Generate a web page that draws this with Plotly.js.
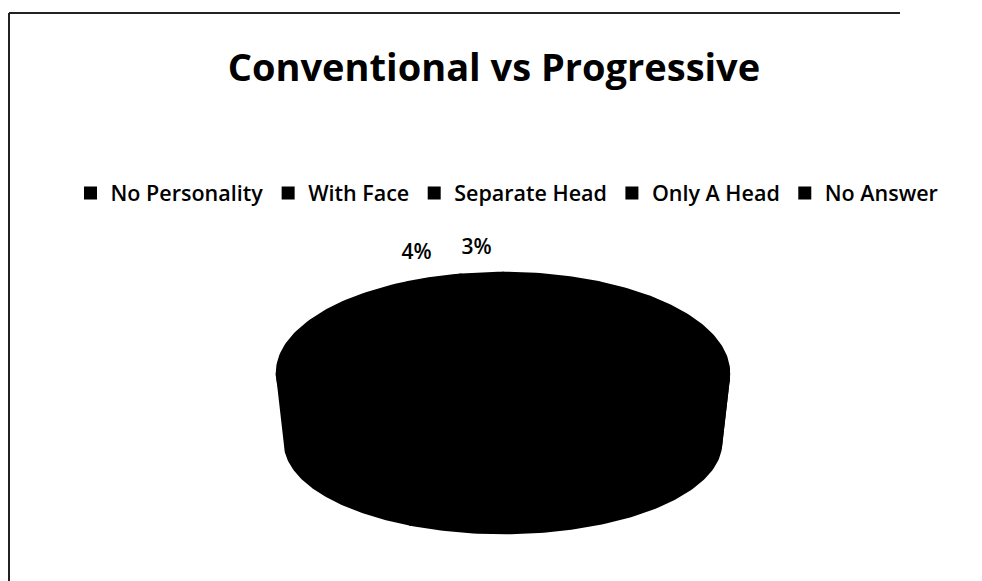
<!DOCTYPE html>
<html>
<head>
<meta charset="utf-8">
<script src="https://cdn.plot.ly/plotly-3.0.1.min.js"></script>
<style>
  html, body { margin: 0; padding: 0; background: #fff; overflow: hidden; }
  #chart { width: 982px; height: 581px; }
</style>
</head>
<body>
<div id="chart"></div>
<script>
// Survey answers, in the order the slices run clockwise from 12 o'clock
const categories = ['No Personality', 'With Face', 'Separate Head', 'Only A Head', 'No Answer'];
const shares = [26, 31, 36, 4, 3];
const sliceColors = ['#000000', '#000000', '#000000', '#000000', '#000000'];

// Geometry of the tilted (3-D look) pie, in plot units (1 unit = 1 px)
const W = 982, H = 581;
const CX = 503, CY = 373;           // centre of the top face
const A = 226, B = 100;             // top face radii
const CY2 = 443, A2 = 218, B2 = 90; // bottom rim
const LA = 280, LB = 125;           // ellipse on which outside labels sit
const STEPS = 90;
const FONT = '"Open Sans", Lato, sans-serif';

const total = shares.reduce((s, v) => s + v, 0);
const traces = [];
const sides = [];
const tops = [];
const lblX = [], lblY = [], lblT = [];

let cum = 0;
shares.forEach((v, i) => {
  const t1 = cum / total * 2 * Math.PI;
  const t2 = (cum + v) / total * 2 * Math.PI;
  cum += v;

  // top face wedge
  const tx = [CX], ty = [CY];
  for (let k = 0; k <= STEPS; k++) {
    const t = t1 + (t2 - t1) * k / STEPS;
    tx.push(CX + A * Math.sin(t));
    ty.push(CY - B * Math.cos(t));
  }
  tx.push(CX); ty.push(CY);
  tops.push({
    type: 'scatter', mode: 'lines', x: tx, y: ty, fill: 'toself',
    fillcolor: sliceColors[i], line: { color: sliceColors[i], width: 2.5 },
    hoverinfo: 'skip', showlegend: false
  });

  // front wall: only the part of the rim that faces the viewer
  const s1 = Math.max(t1, Math.PI / 2), s2 = Math.min(t2, 3 * Math.PI / 2);
  if (s2 > s1) {
    const sx = [], sy = [];
    for (let k = 0; k <= STEPS; k++) {
      const t = s1 + (s2 - s1) * k / STEPS;
      sx.push(CX + A * Math.sin(t)); sy.push(CY - B * Math.cos(t));
    }
    for (let k = STEPS; k >= 0; k--) {
      const t = s1 + (s2 - s1) * k / STEPS;
      sx.push(CX + A2 * Math.sin(t)); sy.push(CY2 - B2 * Math.cos(t));
    }
    sx.push(sx[0]); sy.push(sy[0]);
    sides.push({
      type: 'scatter', mode: 'lines', x: sx, y: sy, fill: 'toself',
      fillcolor: sliceColors[i], line: { color: sliceColors[i], width: 2.5 },
      hoverinfo: 'skip', showlegend: false
    });
  }

  // small slices get their percentage outside the pie
  if (v / total < 0.05) {
    const tm = (t1 + t2) / 2;
    lblX.push(CX + LA * Math.sin(tm));
    lblY.push(CY - LB * Math.cos(tm));
    lblT.push(Math.round(v / total * 100) + '%');
  }
});

traces.push(...sides, ...tops);

traces.push({
  type: 'scatter', mode: 'text', x: lblX, y: lblY, text: lblT,
  textposition: 'middle center',
  textfont: { family: FONT, size: 21, weight: 600, color: '#000' },
  hoverinfo: 'skip', showlegend: false
});

// legend entries
categories.forEach((c, i) => {
  traces.push({
    type: 'scatter', mode: 'markers', x: [null], y: [null], name: c,
    marker: { symbol: 'square', size: 13, color: sliceColors[i] },
    hoverinfo: 'skip', showlegend: true
  });
});

const layout = {
  width: W, height: H,
  margin: { l: 0, r: 0, t: 0, b: 0 },
  paper_bgcolor: '#ffffff', plot_bgcolor: '#ffffff',
  title: {
    text: 'Conventional vs Progressive',
    font: { family: FONT, size: 38, weight: 700, color: '#000' },
    x: 494 / W, xanchor: 'center', xref: 'container',
    y: 1 - 68 / H, yanchor: 'middle', yref: 'container'
  },
  xaxis: { range: [0, W], visible: false, fixedrange: true },
  yaxis: { range: [H, 0], visible: false, fixedrange: true },
  showlegend: true,
  legend: {
    orientation: 'h', x: 507 / W, xanchor: 'center', y: 1 - 193 / H, yanchor: 'middle',
    font: { family: FONT, size: 21.5, weight: 600, color: '#000' },
    itemwidth: 30, bgcolor: 'rgba(0,0,0,0)'
  },
  // chart frame: its left and top edges
  shapes: [{
    type: 'line', xref: 'x', yref: 'y',
    x0: 9, x1: 9, y0: H + 20, y1: 13,
    line: { color: '#222', width: 2 }, layer: 'above'
  }, {
    type: 'line', xref: 'x', yref: 'y',
    x0: 9, x1: 900, y0: 13, y1: 13,
    line: { color: '#222', width: 2 }, layer: 'above'
  }]
};

Plotly.newPlot('chart', traces, layout, { displayModeBar: false, staticPlot: true });
</script>
</body>
</html>
